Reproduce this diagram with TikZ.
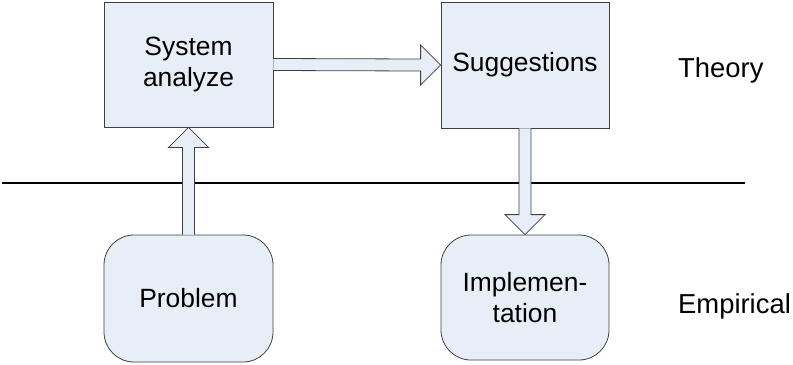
\documentclass[tikz,border=0pt]{standalone}
\usepackage{fontspec}
\setmainfont{Liberation Sans}
\usetikzlibrary{calc}
\definecolor{boxfill}{RGB}{232,238,247}
\definecolor{boxline}{RGB}{64,64,64}
\tikzset{
    stage/.style={draw=boxline,fill=boxfill,line width=0.8pt,align=center,inner sep=0,font=\boxfontsize},
    roundstage/.style={stage,rounded corners=30bp},
    blockarrow/.style={draw=boxline,fill=boxfill,line width=0.8pt,line join=miter},
    levellabel/.style={anchor=base west,inner sep=0,font=\labelfontsize}
}
\newcommand{\boxfontsize}{\fontsize{26.5}{31}\selectfont}
\newcommand{\labelfontsize}{\fontsize{27.5}{32}\selectfont}
\begin{document}
\begin{tikzpicture}[x=1bp,y=-1bp]
    \pgfmathsetmacro{\shafthalf}{6}
    \pgfmathsetmacro{\headhalf}{20}
    \pgfmathsetmacro{\headlength}{20}
    \useasboundingbox (0,0) rectangle (793,364);
    % boxes
    \node[stage,minimum width=169bp,minimum height=125bp] (analyze) at (188.5,64.5) {System\\analyze};
    \node[stage,minimum width=168bp,minimum height=126bp] (suggest) at (525,65) {Suggestions};
    \node[roundstage,minimum width=169bp,minimum height=127bp] (problem) at (188.5,298.5) {Problem};
    \node[roundstage,minimum width=168bp,minimum height=125bp] (implement) at (525,297.5) {Implemen-\\tation};
    % level labels
    \node[levellabel] (theory) at (678,77) {Theory};
    \node[levellabel] (empirical) at (678,313) {Empirical};
    % border between the levels
    \coordinate (borderL) at (2,183);
    \coordinate (borderR) at (745,183);
    \draw[line width=2.5pt] (borderL) -- (borderR);
    % block arrows
    \draw[blockarrow] ($(analyze.east)+(0,-\shafthalf)$) -- ($(suggest.west)+(-\headlength,-\shafthalf)$)
        -- ($(suggest.west)+(-\headlength,-\headhalf)$) -- (suggest.west)
        -- ($(suggest.west)+(-\headlength,\headhalf)$) -- ($(suggest.west)+(-\headlength,\shafthalf)$)
        -- ($(analyze.east)+(0,\shafthalf)$);
    \draw[blockarrow] ($(problem.north)+(-\shafthalf,0)$) -- ($(analyze.south)+(-\shafthalf,\headlength)$)
        -- ($(analyze.south)+(-\headhalf,\headlength)$) -- (analyze.south)
        -- ($(analyze.south)+(\headhalf,\headlength)$) -- ($(analyze.south)+(\shafthalf,\headlength)$)
        -- ($(problem.north)+(\shafthalf,0)$);
    \draw[blockarrow] ($(suggest.south)+(-\shafthalf,0)$) -- ($(implement.north)+(-\shafthalf,-\headlength)$)
        -- ($(implement.north)+(-\headhalf,-\headlength)$) -- (implement.north)
        -- ($(implement.north)+(\headhalf,-\headlength)$) -- ($(implement.north)+(\shafthalf,-\headlength)$)
        -- ($(suggest.south)+(\shafthalf,0)$);
\end{tikzpicture}
\end{document}
